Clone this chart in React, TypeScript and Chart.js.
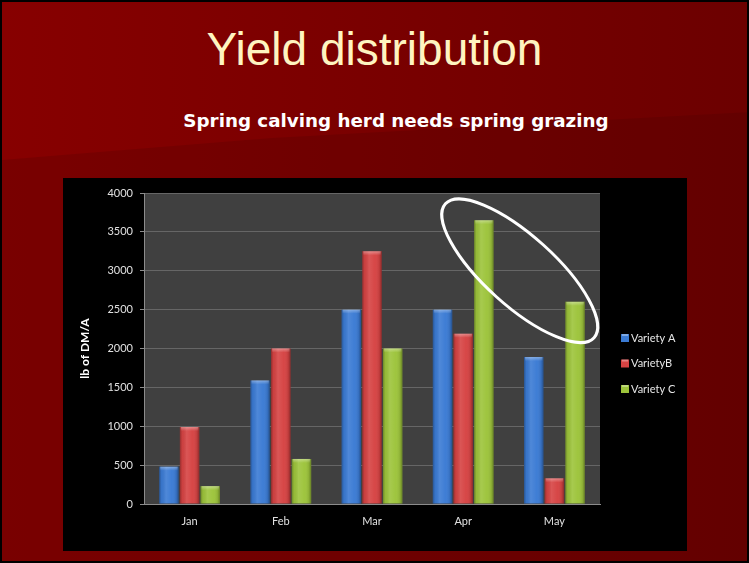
import React, { useEffect, useRef } from "react";
import { Chart, registerables } from "chart.js";

Chart.register(...registerables);

const categories = ["Jan", "Feb", "Mar", "Apr", "May"];
const varietyA = [480, 1590, 2500, 2500, 1890];
const varietyB = [990, 2000, 3250, 2190, 330];
const varietyC = [230, 580, 2000, 3650, 2600];
const seriesLabels = ["Variety A", "VarietyB", "Variety C"];
const yTicks = [0, 500, 1000, 1500, 2000, 2500, 3000, 3500, 4000];
const ellipseCenterValue = 3000;

const COLORS = ["#3b7bd4", "#d64343", "#9dc43b"];
const FONT = "Lato, 'Open Sans', sans-serif";

const plotBg = {
  id: "plotBg",
  beforeDraw(chart: any) {
    const { ctx, chartArea } = chart;
    ctx.save();
    ctx.fillStyle = "#404040";
    ctx.fillRect(chartArea.left, chartArea.top, chartArea.right - chartArea.left, chartArea.bottom - chartArea.top);
    ctx.restore();
  },
};

const barShade = {
  id: "barShade",
  afterDatasetsDraw(chart: any) {
    const ctx = chart.ctx;
    ctx.save();
    chart.data.datasets.forEach((_ds: any, di: number) => {
      const meta = chart.getDatasetMeta(di);
      meta.data.forEach((bar: any) => {
        const { x, y, base, width } = bar.getProps(["x", "y", "base", "width"], true);
        const left = x - width / 2;
        const h = base - y;
        const g = ctx.createLinearGradient(left, 0, left + width, 0);
        g.addColorStop(0, "rgba(0,0,0,0.30)");
        g.addColorStop(0.12, "rgba(0,0,0,0.05)");
        g.addColorStop(0.35, "rgba(255,255,255,0.10)");
        g.addColorStop(0.65, "rgba(255,255,255,0.02)");
        g.addColorStop(0.88, "rgba(0,0,0,0.10)");
        g.addColorStop(1, "rgba(0,0,0,0.35)");
        ctx.fillStyle = g;
        ctx.fillRect(left, y, width, h);
        const cap = Math.min(4, h);
        const gt = ctx.createLinearGradient(0, y, 0, y + cap);
        gt.addColorStop(0, "rgba(255,255,255,0.35)");
        gt.addColorStop(1, "rgba(255,255,255,0.0)");
        ctx.fillStyle = gt;
        ctx.fillRect(left + 1, y, width - 2, cap);
      });
    });
    ctx.restore();
  },
};

const ellipse = {
  id: "ellipse",
  afterDatasetsDraw(chart: any) {
    const { ctx, scales } = chart;
    const x3 = scales.x.getPixelForValue(3);
    const x4 = scales.x.getPixelForValue(4);
    const cx = x3 + 0.62 * (x4 - x3);
    const cy = scales.y.getPixelForValue(ellipseCenterValue);
    ctx.save();
    ctx.beginPath();
    ctx.ellipse(cx, cy, 100, 35, (42 * Math.PI) / 180, 0, Math.PI * 2);
    ctx.strokeStyle = "#ffffff";
    ctx.lineWidth = 3;
    ctx.stroke();
    ctx.restore();
  },
};

const legendPlugin = {
  id: "customLegend",
  afterDraw(chart: any) {
    const { ctx, chartArea, height } = chart;
    const spacing = 25.5;
    const x0 = chartArea.right + 21;
    const yMid = height / 2 - 1;
    ctx.save();
    ctx.font = `11px ${FONT}`;
    ctx.textBaseline = "middle";
    ctx.textAlign = "left";
    seriesLabels.forEach((lab, i) => {
      const yc = yMid + (i - 1) * spacing;
      ctx.fillStyle = COLORS[i];
      ctx.fillRect(x0, yc - 4, 8, 8);
      ctx.fillStyle = "rgba(255,255,255,0.35)";
      ctx.fillRect(x0 + 1, yc - 4, 6, 2);
      ctx.fillStyle = "#e6e6e6";
      ctx.fillText(lab, x0 + 10, yc);
    });
    ctx.restore();
  },
};

function ChartBox() {
  const ref = useRef<HTMLCanvasElement | null>(null);
  useEffect(() => {
    if (!ref.current) return;
    const chart = new Chart(ref.current, {
      type: "bar",
      data: {
        labels: categories,
        datasets: [varietyA, varietyB, varietyC].map((d, i) => ({
          label: seriesLabels[i],
          data: d,
          backgroundColor: COLORS[i],
          borderWidth: 0,
          categoryPercentage: 0.68,
          barPercentage: 0.94,
        })),
      },
      options: {
        animation: false,
        responsive: false,
        maintainAspectRatio: false,
        layout: { padding: { left: 0, right: 87, top: 15, bottom: 0 } },
        plugins: { legend: { display: false }, tooltip: { enabled: false } },
        scales: {
          x: {
            grid: { display: false, drawTicks: false },
            border: { display: true, color: "#8c8c8c", width: 1 },
            ticks: { color: "#e0e0e0", font: { family: FONT, size: 11 }, padding: 11 },
            afterFit: (s: any) => {
              s.height = 47;
            },
          },
          y: {
            min: 0,
            max: 4000,
            afterBuildTicks: (s: any) => {
              s.ticks = yTicks.map((v) => ({ value: v }));
            },
            grid: { color: "#666666", tickColor: "#8c8c8c", tickLength: 4, lineWidth: 1 },
            border: { display: true, color: "#8c8c8c", width: 1 },
            ticks: {
              color: "#e0e0e0",
              font: { family: FONT, size: 11 },
              padding: 7,
              callback: (v: any) => String(v),
            },
            title: {
              display: true,
              text: "lb of DM/A",
              color: "#ffffff",
              font: { family: FONT, size: 12, weight: "bold" },
              padding: { top: 15, bottom: 0 },
            },
            afterFit: (s: any) => {
              s.width = 81;
            },
          },
        },
      },
      plugins: [plotBg, barShade, ellipse, legendPlugin],
    });
    return () => chart.destroy();
  }, []);
  return <canvas ref={ref} width={624} height={373} style={{ display: "block", width: 624, height: 373 }} />;
}

export default function App() {
  return (
    <div
      style={{
        position: "fixed",
        left: 0,
        top: 0,
        width: 749,
        height: 563,
        boxSizing: "border-box",
        border: "2px solid #000",
        background: "linear-gradient(to right, #870000, #6c0000)",
        overflow: "hidden",
      }}
    >
      <div
        style={{
          position: "absolute",
          left: 0,
          top: 0,
          width: 749,
          height: 563,
          background: "rgba(60,0,0,0.18)",
          clipPath: "polygon(0px 158px, 270px 136px, 749px 110px, 749px 563px, 0px 563px)",
        }}
      />
      <div
        style={{
          position: "absolute",
          left: -2,
          top: 24,
          width: 749,
          textAlign: "center",
          fontFamily: "'Liberation Sans', Arial, sans-serif",
          fontSize: 46,
          lineHeight: 1,
          color: "#fff4c0",
          whiteSpace: "nowrap",
        }}
      >
        Yield distribution
      </div>
      <div
        style={{
          position: "absolute",
          left: 396 - 300 - 2,
          top: 110,
          width: 600,
          textAlign: "center",
          fontFamily: "'DejaVu Sans', sans-serif",
          fontWeight: "bold",
          fontSize: 18.3,
          lineHeight: 1,
          color: "#ffffff",
          whiteSpace: "nowrap",
        }}
      >
        Spring calving herd needs spring grazing
      </div>
      <div
        style={{
          position: "absolute",
          left: 61,
          top: 176,
          width: 624,
          height: 373,
          background: "#000",
        }}
      >
        <ChartBox />
      </div>
    </div>
  );
}
